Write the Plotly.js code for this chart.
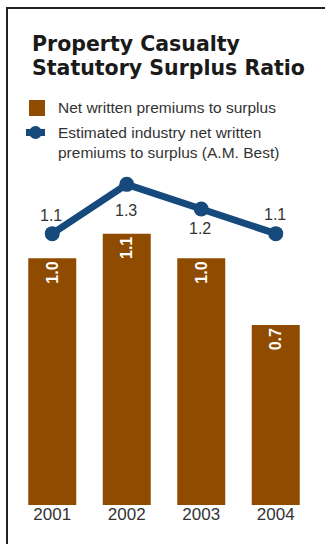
<!DOCTYPE html>
<html>
<head>
<meta charset="utf-8">
<script src="https://cdn.plot.ly/plotly-3.0.1.min.js"></script>
<style>
  html, body { margin: 0; padding: 0; background: #ffffff; }
  #wrap { position: relative; width: 325px; height: 544px; overflow: hidden; }
  #frame { position: absolute; left: 6px; top: 7px; width: 330px; height: 560px;
           border-top: 2px solid #222; border-left: 2px solid #222; box-sizing: border-box; }
  #chart { position: absolute; left: 0; top: 0; width: 325px; height: 544px; }
</style>
</head>
<body>
<div id="wrap">
  <div id="frame"></div>
  <div id="chart"></div>
</div>
<script>
// ---- data ----
const years = ['2001', '2002', '2003', '2004'];
const netWrittenToSurplus = [1.0, 1.1, 1.0, 0.73];
const industryEstimate = [1.1, 1.3, 1.2, 1.1];

const titleLine1 = 'Property Casualty';
const titleLine2 = 'Statutory Surplus Ratio';
const legendBarLabel = 'Net written premiums to surplus';
const legendLineLabel = 'Estimated industry net written<br>premiums to surplus (A.M. Best)';

// ---- styles ----
const lineLabelShift = [18, -26, -19, 19];   // px offset of each value label from its point
const BAR_COLOR = '#8f4c00';
const LINE_COLOR = '#174a7c';
const TEXT_COLOR = '#333333';
const FONT = 'Liberation Sans, Arial, Helvetica, sans-serif';

const W = 325, H = 544;
const M = { l: 15, r: 12, t: 172, b: 39 };
const PW = W - M.l - M.r, PH = H - M.t - M.b;
const px = x => (x - M.l) / PW;
const py = y => (H - M.b - y) / PH;

const traces = [
  {
    type: 'bar',
    x: years,
    y: netWrittenToSurplus,
    marker: { color: BAR_COLOR },
    texttemplate: '%{y:.1f}',
    textposition: 'inside',
    insidetextanchor: 'end',
    textangle: -90,
    constraintext: 'none',
    textfont: { family: FONT, size: 16, color: '#ffffff', weight: 'bold' },
    showlegend: false,
    hoverinfo: 'skip'
  },
  {
    type: 'scatter',
    mode: 'lines+markers',
    x: years,
    y: industryEstimate,
    line: { color: LINE_COLOR, width: 7 },
    marker: { color: LINE_COLOR, size: 15 },
    cliponaxis: false,
    showlegend: false,
    hoverinfo: 'skip'
  },
  // empty trace that only hosts the year-label axis (a few px above the bar base)
  {
    type: 'scatter', mode: 'none',
    x: [], y: [],
    xaxis: 'x2', yaxis: 'y2',
    showlegend: false, hoverinfo: 'skip'
  }
];

// value labels of the line, placed on the data axes (category index on x)
const valueLabels = years.map((yr, i) => ({
  xref: 'x', yref: 'y', x: i, y: industryEstimate[i],
  text: industryEstimate[i].toFixed(1),
  showarrow: false, xanchor: 'center', yanchor: 'middle',
  yshift: lineLabelShift[i], xshift: -1,
  font: { family: FONT, size: 16, color: TEXT_COLOR }
}));

const layout = {
  width: W, height: H,
  autosize: false,
  margin: { l: M.l, r: M.r, t: M.t, b: M.b, pad: 0 },
  paper_bgcolor: 'rgba(0,0,0,0)',
  plot_bgcolor: 'rgba(0,0,0,0)',
  bargap: 0.356,
  font: { family: FONT, color: TEXT_COLOR },
  xaxis: {
    type: 'category',
    range: [-0.5, years.length - 0.5],
    showgrid: false, zeroline: false, showline: false, ticks: '',
    showticklabels: false,
    fixedrange: true
  },
  xaxis2: {
    anchor: 'y2', type: 'linear', domain: [0, 1],
    range: [-0.5, years.length - 0.5],
    tickmode: 'array', tickvals: years.map((_, i) => i), ticktext: years,
    showgrid: false, zeroline: false, showline: false, ticks: '',
    tickfont: { family: FONT, size: 17, color: TEXT_COLOR },
    fixedrange: true
  },
  yaxis: {
    range: [0, 1.35],
    visible: false,
    fixedrange: true
  },
  yaxis2: {
    anchor: 'x2', domain: [3 / PH, 1], range: [0, 1],
    visible: false, fixedrange: true
  },
  shapes: [
    { type: 'rect', xref: 'paper', yref: 'paper',
      x0: px(29), x1: px(45), y0: py(100), y1: py(116),
      fillcolor: BAR_COLOR, line: { width: 0 } },
    { type: 'line', xref: 'paper', yref: 'paper',
      x0: px(26), x1: px(45), y0: py(132.5), y1: py(132.5),
      line: { color: LINE_COLOR, width: 7 } },
    { type: 'circle', xref: 'paper', yref: 'paper',
      x0: px(29), x1: px(42), y0: py(126), y1: py(139),
      fillcolor: LINE_COLOR, line: { width: 0 } }
  ],
  annotations: [
    { text: titleLine1, xref: 'paper', yref: 'paper', x: px(30), y: py(44.5),
      xanchor: 'left', yanchor: 'middle', showarrow: false,
      font: { family: 'DejaVu Sans, sans-serif', size: 20.5, color: '#1a1a1a', weight: 'bold' } },
    { text: titleLine2, xref: 'paper', yref: 'paper', x: px(30), y: py(67.5),
      xanchor: 'left', yanchor: 'middle', showarrow: false,
      font: { family: 'DejaVu Sans, sans-serif', size: 20.5, color: '#1a1a1a', weight: 'bold' } },
    { text: legendBarLabel, xref: 'paper', yref: 'paper', x: px(56), y: py(108),
      xanchor: 'left', yanchor: 'middle', showarrow: false, align: 'left',
      font: { family: FONT, size: 15.5, color: TEXT_COLOR } },
    { text: legendLineLabel, xref: 'paper', yref: 'paper', x: px(56), y: py(142.5),
      xanchor: 'left', yanchor: 'middle', showarrow: false, align: 'left',
      font: { family: FONT, size: 15.5, color: TEXT_COLOR } }
  ].concat(valueLabels)
};

Plotly.newPlot('chart', traces, layout, { staticPlot: true, displayModeBar: false });
</script>
</body>
</html>
